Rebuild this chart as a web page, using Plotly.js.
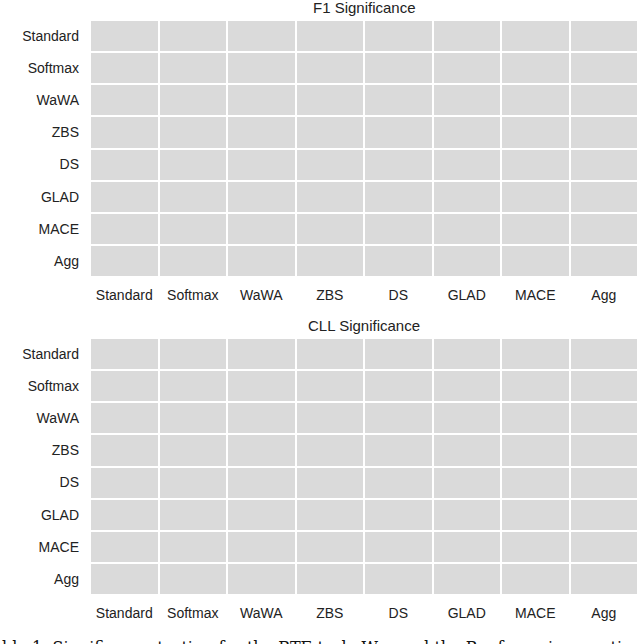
<!DOCTYPE html>
<html>
<head>
<meta charset="utf-8">
<script src="https://cdn.plot.ly/plotly-3.0.1.min.js"></script>
<style>html,body{margin:0;padding:0;background:#fff;}#chart{width:640px;height:644px;}</style>
</head>
<body>
<div id="chart"></div>
<script>
const methods = ["Standard", "Softmax", "WaWA", "ZBS", "DS", "GLAD", "MACE", "Agg"];
const rowLabels = ["Standard", "Softmax", "WaWA", "ZBS", "DS", "GLAD", "MACE", "Agg"];
// significance values (all cells shown as non-significant / uniform gray)
const f1Sig = [
  [0,0,0,0,0,0,0,0],
  [0,0,0,0,0,0,0,0],
  [0,0,0,0,0,0,0,0],
  [0,0,0,0,0,0,0,0],
  [0,0,0,0,0,0,0,0],
  [0,0,0,0,0,0,0,0],
  [0,0,0,0,0,0,0,0],
  [0,0,0,0,0,0,0,0]
];
const cllSig = [
  [0,0,0,0,0,0,0,0],
  [0,0,0,0,0,0,0,0],
  [0,0,0,0,0,0,0,0],
  [0,0,0,0,0,0,0,0],
  [0,0,0,0,0,0,0,0],
  [0,0,0,0,0,0,0,0],
  [0,0,0,0,0,0,0,0],
  [0,0,0,0,0,0,0,0]
];
const titles = ["F1 Significance", "CLL Significance"];
const caption = "ble 1: Significance testing for the RTE task. We used the Bonferroni correction for multiple comparisons";

const H = 644;
const gray = "#dadada";
const scale = [[0, gray], [1, gray]];

function hm(z, xa, ya) {
  return {
    type: "heatmap", z: z, x: methods, y: rowLabels,
    xaxis: xa, yaxis: ya, colorscale: scale, zmin: 0, zmax: 1,
    showscale: false, xgap: 2, ygap: 2, hoverinfo: "skip"
  };
}

const tickFont = {family: "Liberation Sans, Arial, sans-serif", size: 14, color: "#222"};
function xax(anchor) {
  return {anchor: anchor, domain: [0, 1], showgrid: false, zeroline: false, showline: false,
    ticks: "", tickfont: tickFont, ticklabelstandoff: 8, fixedrange: true};
}
function yax(anchor, dom) {
  return {anchor: anchor, domain: dom, showgrid: false, zeroline: false, showline: false,
    ticks: "", tickfont: tickFont, autorange: "reversed", ticklabelstandoff: 10, fixedrange: true};
}

const layout = {
  width: 640, height: 644,
  margin: {l: 90, r: 2, t: 0, b: 0},
  paper_bgcolor: "#fff", plot_bgcolor: "#fff",
  xaxis: xax("y"),
  yaxis: yax("x", [1 - 277 / H, 1 - 20 / H]),
  xaxis2: xax("y2"),
  yaxis2: yax("x2", [1 - 595 / H, 1 - 338 / H]),
  annotations: [
    {text: titles[0], xref: "paper", yref: "paper", x: 0.5, y: 1 - 7 / H, xanchor: "center", yanchor: "middle",
     showarrow: false, font: {family: "Liberation Sans, Arial, sans-serif", size: 15, color: "#222"}},
    {text: titles[1], xref: "paper", yref: "paper", x: 0.5, y: 1 - 325 / H, xanchor: "center", yanchor: "middle",
     showarrow: false, font: {family: "Liberation Sans, Arial, sans-serif", size: 15, color: "#222"}},
    {text: caption, xref: "paper", yref: "paper", x: -90 / 548, y: 1 - 636 / H, xanchor: "left", yanchor: "top",
     showarrow: false, font: {family: "DejaVu Serif, Liberation Serif, serif", size: 16, color: "#111"}}
  ]
};

Plotly.newPlot("chart", [hm(f1Sig, "x", "y"), hm(cllSig, "x2", "y2")], layout, {staticPlot: true, displayModeBar: false});
</script>
</body>
</html>
